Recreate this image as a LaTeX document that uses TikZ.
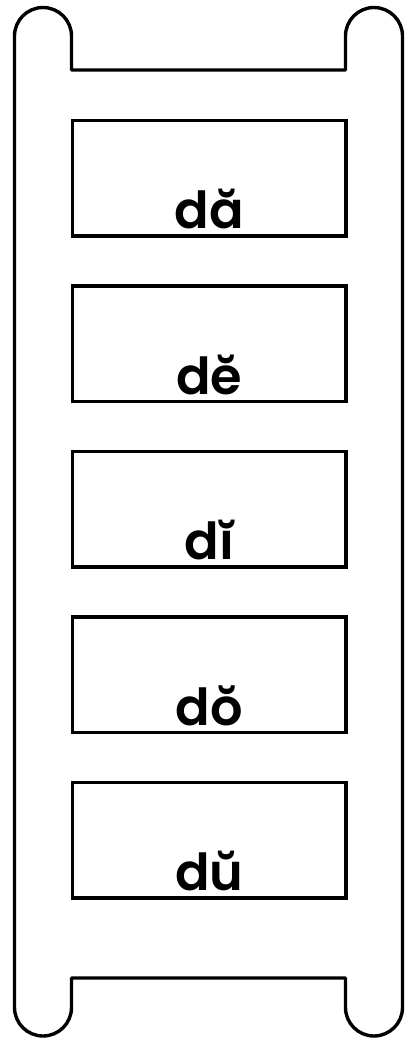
\documentclass[tikz,border=0pt]{standalone}
\usepackage{fontspec}
\setmainfont{Poppins}[BoldFont={Poppins SemiBold}]
\usetikzlibrary{positioning}
\tikzset{
    rail/.style={draw, line width=3.4pt, line join=round},
    rung/.style={
        draw,
        line width=3.4pt,
        minimum width=273.5pt,
        minimum height=115.5pt,
        inner sep=0pt
    },
    syllable/.style={font=\fontsize{51}{51}\selectfont\bfseries, anchor=base, inner sep=0pt}
}
\begin{document}
\begin{tikzpicture}[x=1pt,y=-1pt]
\useasboundingbox (0,0) rectangle (408,1041);

% ladder rails with top and bottom rungs
\draw[rail] (71.5,70) -- (71.5,36)
    arc[start angle=0, end angle=180, radius=28.5pt] -- (14.5,1007.5)
    arc[start angle=180, end angle=360, radius=28.5pt] -- (71.5,978) -- (345.5,978) -- (345.5,1007.5)
    arc[start angle=180, end angle=360, radius=28.5pt] -- (402.5,36)
    arc[start angle=0, end angle=180, radius=28.5pt] -- (345.5,70) -- cycle;

% rungs with syllables
\foreach \s [count=\i] in {dă,dĕ,dĭ,dŏ,dŭ}{
    \node[rung] (box\i) at (209.25,{178.25+165.5*(\i-1)}) {};
    \node[syllable] (word\i) at ([yshift=9pt]box\i.south) {\s};
}
\end{tikzpicture}
\end{document}
